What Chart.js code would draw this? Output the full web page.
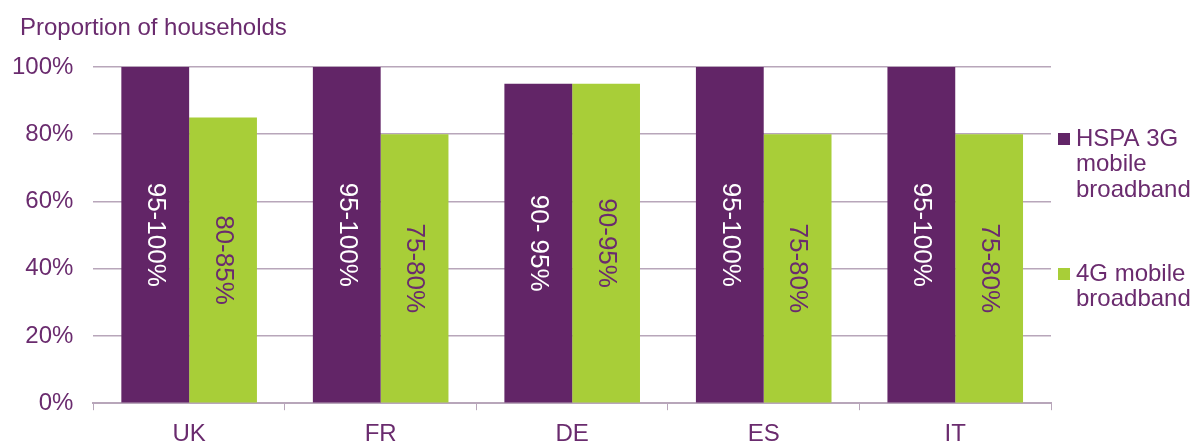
<!DOCTYPE html>
<html>
<head>
<meta charset="utf-8">
<script src="https://cdn.jsdelivr.net/npm/chart.js@4/dist/chart.umd.min.js"></script>
<style>
  html, body { margin: 0; padding: 0; background: #fff; }
  #wrap { width: 1194px; height: 441px; }
</style>
</head>
<body>
<div id="wrap"><canvas id="chart"></canvas></div>
<script>
const countries = ['UK', 'FR', 'DE', 'ES', 'IT'];
const hspaValues = [100, 100, 95, 100, 100];
const lteValues = [85, 80, 95, 80, 80];
const hspaLabels = ['95-100%', '95-100%', '90- 95%', '95-100%', '95-100%'];
const lteLabels = ['80-85%', '75-80%', '90-95%', '75-80%', '75-80%'];
const seriesNames = [['HSPA 3G', 'mobile', 'broadband'], ['4G mobile', 'broadband']];
const yTicks = [0, 20, 40, 60, 80, 100];

const PURPLE = '#622567';
const GREEN = '#a8ce38';
const TEXT = '#6a2b6e';
const GRID = '#b8a6ba';
const FONT = '"Liberation Sans", Arial, sans-serif';

// rotated value labels inside bars + title + right-hand legend
const decorPlugin = {
    id: 'decor',
    afterDatasetsDraw(chart) {
        const ctx = chart.ctx;
        const labelSets = [hspaLabels, lteLabels];
        const colors = ['#ffffff', TEXT];
        ctx.save();
        ctx.font = '26px ' + FONT;
        ctx.textAlign = 'center';
        ctx.textBaseline = 'middle';
        chart.data.datasets.forEach((ds, i) => {
            chart.getDatasetMeta(i).data.forEach((bar, j) => {
                const { x, y, base } = bar.getProps(['x', 'y', 'base'], true);
                ctx.save();
                ctx.translate(x, (y + base) / 2);
                ctx.rotate(Math.PI / 2);
                ctx.fillStyle = colors[i];
                ctx.fillText(labelSets[i][j], 0, 0);
                ctx.restore();
            });
        });
        ctx.restore();
    },
    afterDraw(chart) {
        const ctx = chart.ctx;
        ctx.save();
        ctx.fillStyle = TEXT;
        ctx.font = '24px ' + FONT;
        ctx.textBaseline = 'middle';
        ctx.textAlign = 'left';
        ctx.fillText('Proportion of households', 20, 28);

        // legend
        ctx.font = '24px ' + FONT;
        const area = chart.chartArea;
        const startY = [139, 274];
        chart.data.datasets.forEach((ds, i) => {
            const top = startY[i];
            ctx.fillStyle = ds.backgroundColor;
            ctx.fillRect(area.right + 7, top - 6, 12, 12);
            ctx.fillStyle = TEXT;
            seriesNames[i].forEach((line, k) => {
                ctx.fillText(line, area.right + 25, top + k * 25.5);
            });
        });
        ctx.restore();
    }
};

new Chart(document.getElementById('chart'), {
    type: 'bar',
    data: {
        labels: countries,
        datasets: [
            { label: seriesNames[0].join(' '), data: hspaValues, backgroundColor: PURPLE, borderWidth: 0 },
            { label: seriesNames[1].join(' '), data: lteValues, backgroundColor: GREEN, borderWidth: 0 }
        ]
    },
    options: {
        responsive: true,
        maintainAspectRatio: false,
        animation: false,
        categoryPercentage: 0.708,
        barPercentage: 1.0,
        layout: { padding: { left: -8, right: 143, top: 67, bottom: -18 } },
        plugins: {
            legend: { display: false },
            tooltip: { enabled: false }
        },
        scales: {
            x: {
                grid: {
                    drawOnChartArea: false,
                    drawTicks: true,
                    tickLength: 7,
                    color: GRID,
                    offset: true
                },
                border: { display: true, color: GRID, width: 2 },
                ticks: { color: TEXT, font: { family: FONT, size: 24 }, padding: 10 }
            },
            y: {
                min: 0,
                max: 100,
                afterBuildTicks: axis => { axis.ticks = yTicks.map(v => ({ value: v })); },
                grid: { color: GRID, lineWidth: 1.5, drawTicks: false },
                border: { display: false },
                ticks: {
                    color: TEXT,
                    font: { family: FONT, size: 24 },
                    padding: 20,
                    callback: v => v + '%'
                }
            }
        }
    },
    plugins: [decorPlugin]
});
</script>
</body>
</html>
